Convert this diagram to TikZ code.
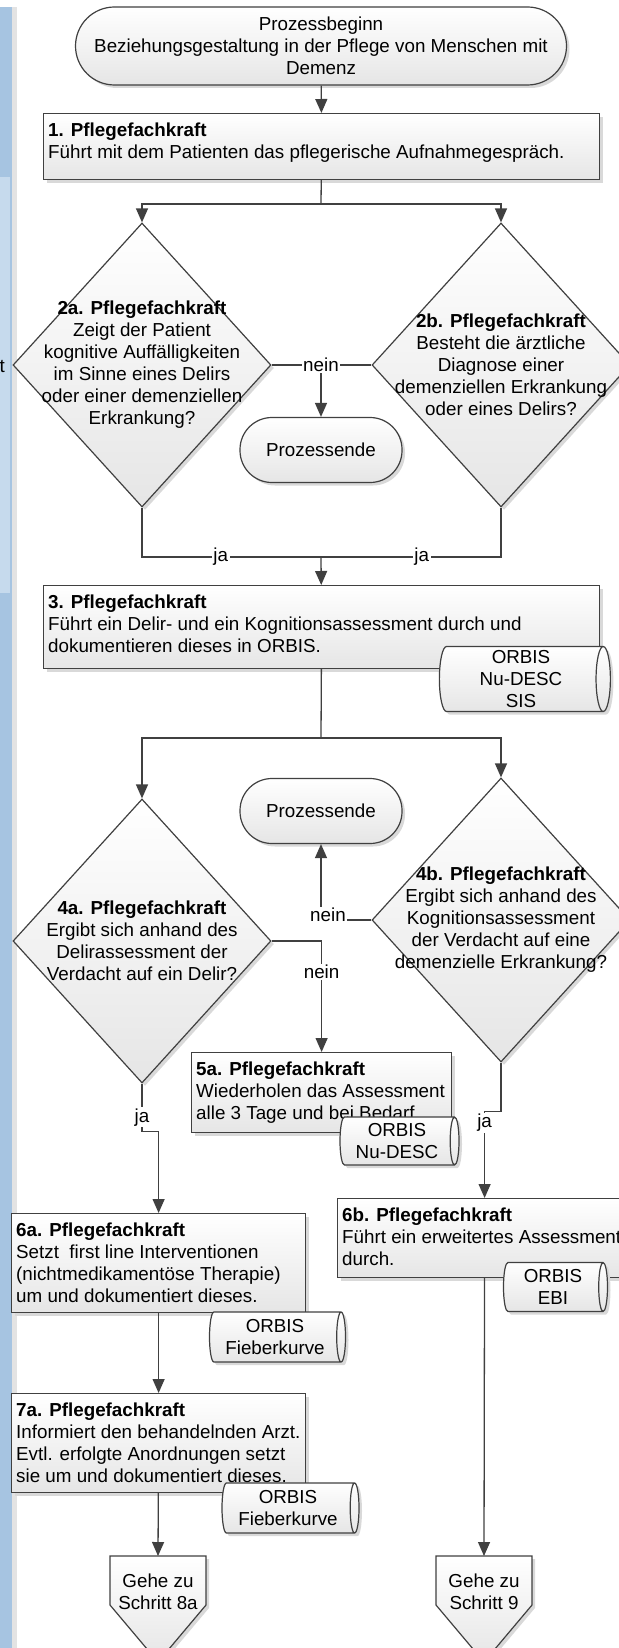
\documentclass[tikz,border=0pt]{standalone}
\usepackage{fontspec}
\setmainfont{Liberation Sans}
\usetikzlibrary{shapes.geometric}
\usetikzlibrary{arrows.meta}
\usetikzlibrary{shadows}
\definecolor{lanedark}{RGB}{166,196,225}
\definecolor{lanelight}{RGB}{198,218,237}
\definecolor{linegray}{RGB}{64,64,64}

\begin{document}
\begin{tikzpicture}[x=1pt, y=-1pt, font=\fontsize{18.8}{22}\selectfont,
  flow/.style={draw=linegray, line width=1.3pt},
  arr/.style={flow, -{Triangle[length=\al, width=\aw]}},
  shaded/.style={draw=linegray, line width=1.2pt, top color=white, bottom color=black!10,
    drop shadow={shadow xshift=3pt, shadow yshift=-3pt, fill=black!15, opacity=1}},
  stepbox/.style={shaded, rectangle, inner sep=0pt, anchor=north west},
  steptext/.style={anchor=north west, align=left, inner xsep=5pt, inner ysep=10pt},
  ask/.style={shaded, diamond, inner sep=0pt, minimum width=258pt, minimum height=284pt},
  term/.style={shaded, rectangle, align=center, inner sep=0pt},
  store/.style={shaded, cylinder, aspect=0.25, align=center, inner sep=0pt},
  lbl/.style={fill=white, inner sep=1.5pt}]
\def\al{14pt}
\def\aw{12pt}
\useasboundingbox (0,0) rectangle (618,1648);
%lane
\fill[lanedark] (0,7) rectangle (12,1648);
\fill[lanelight] (0,177) rectangle (10,593);
\fill[black!11] (12,7) rectangle (17,1648);
\node [anchor=east, inner sep=0pt, name=lanet] at (5,366) {t};

\node [term, rounded corners=39pt, minimum width=491pt, minimum height=78pt, name=s0] at (321,46)
  {Prozessbeginn\\Beziehungsgestaltung in der Pflege von Menschen mit\\Demenz};
\node [stepbox, minimum width=556pt, minimum height=66pt, name=p1,
  label={[steptext]north west:{\textbf{1. Pflegefachkraft}\\Führt mit dem Patienten das pflegerische Aufnahmegespräch.}}] at (43,113) {};

\node [ask, name=d2a, label={[align=center]center:{\textbf{2a. Pflegefachkraft}\\Zeigt der Patient\\kognitive Auffälligkeiten\\im Sinne eines Delirs\\oder einer demenziellen\\Erkrankung?}}] at (142,365) {};
\node [ask, name=d2b, label={[align=center]center:{\textbf{2b. Pflegefachkraft}\\Besteht die ärztliche\\Diagnose einer\\demenziellen Erkrankung\\oder eines Delirs?}}] at (501,365) {};
\node [term, rounded corners=32pt, minimum width=162pt, minimum height=65pt, name=e1] at (321,450) {Prozessende};

\node [stepbox, minimum width=556pt, minimum height=83pt, name=p3,
  label={[steptext]north west:{\textbf{3. Pflegefachkraft}\\Führt ein Delir- und ein Kognitionsassessment durch und\\dokumentieren dieses in ORBIS.}}] at (43,585) {};
\node [store, minimum height=171pt, minimum width=65pt, name=o3] at (521,679) {ORBIS\\Nu-DESC\\SIS};

\node [term, rounded corners=32pt, minimum width=162pt, minimum height=65pt, name=e2] at (321,811) {Prozessende};
\node [ask, name=d4a, label={[align=center]center:{\textbf{4a. Pflegefachkraft}\\Ergibt sich anhand des\\Delirassessment der\\Verdacht auf ein Delir?}}] at (142,941) {};
\node [ask, name=d4b, label={[align=center]center:{\textbf{4b. Pflegefachkraft}\\Ergibt sich anhand des\\Kognitionsassessment\\der Verdacht auf eine\\demenzielle Erkrankung?}}] at (501,920) {};

\node [stepbox, minimum width=260pt, minimum height=80pt, name=p5a,
  label={[steptext]north west:{\textbf{5a. Pflegefachkraft}\\Wiederholen das Assessment\\alle 3 Tage und bei Bedarf.}}] at (191,1052) {};
\node [store, minimum height=119pt, minimum width=48pt, name=o5a] at (397,1141) {ORBIS\\Nu-DESC};

\node [stepbox, minimum width=294pt, minimum height=99pt, name=p6a,
  label={[steptext]north west:{\textbf{6a. Pflegefachkraft}\\Setzt~ first line Interventionen\\(nichtmedikamentöse Therapie)\\um und dokumentiert dieses.}}] at (11,1213) {};
\node [store, minimum height=136pt, minimum width=50pt, name=o6a] at (275,1337) {ORBIS\\Fieberkurve};
\node [stepbox, minimum width=294pt, minimum height=79pt, name=p6b,
  label={[steptext]north west:{\textbf{6b. Pflegefachkraft}\\Führt ein erweitertes Assessment\\durch.}}] at (337,1198) {};
\node [store, minimum height=104pt, minimum width=49pt, name=o6b] at (553,1287) {ORBIS\\EBI};

\node [stepbox, minimum width=294pt, minimum height=99pt, name=p7a,
  label={[steptext]north west:{\textbf{7a. Pflegefachkraft}\\Informiert den behandelnden Arzt.\\Evtl. erfolgte Anordnungen setzt\\sie um und dokumentiert dieses.}}] at (11,1393) {};
\node [store, minimum height=137pt, minimum width=50pt, name=o7a] at (288,1508) {ORBIS\\Fieberkurve};

%off page
\coordinate (g8a) at (158,1556);
\coordinate (g9) at (484,1556);
\draw [shaded] (g8a) ++(-48,0) -- ++(96,0) -- ++(0,49) -- ++(-48,57) -- ++(-48,-57) -- cycle;
\draw [shaded] (g9) ++(-48,0) -- ++(96,0) -- ++(0,49) -- ++(-48,57) -- ++(-48,-57) -- cycle;
\node [align=center, name=g8at] at (158,1592) {Gehe zu\\Schritt 8a};
\node [align=center, name=g9t] at (484,1592) {Gehe zu\\Schritt 9};

\coordinate (j1) at (321,204);
\coordinate (j2) at (321,365);
\coordinate (j3) at (321,557);
\coordinate (j4) at (321,738);
\draw [arr] (s0) -- (p1);
\draw [flow] (p1) -- (j1);
\draw [arr] (j1) -| (d2a);
\draw [arr] (j1) -| (d2b);
\draw [flow] (d2a) -- (d2b);
\draw [arr] (j2) -- (e1);
\node [lbl, name=n1] at (j2) {nein};
\draw [flow] (d2a) |- (j3) node [lbl, pos=0.72, name=y1] {ja};
\draw [flow] (d2b) |- (j3) node [lbl, pos=0.72, name=y2] {ja};
\draw [arr] (j3) -- (p3);
\draw [flow] (p3) -- (j4);
\draw [arr] (j4) -| (d4a);
\draw [arr] (j4) -| (d4b);
\draw [arr] (d4b) -| (e2) node [lbl, pos=0.5, xshift=7pt, yshift=5pt, name=n2] {nein};
\draw [arr] (d4a) -| (p5a) node [lbl, pos=0.64, name=n3] {nein};
\draw [arr] (d4a.south) -- ++(0,48) node [lbl, pos=0.7, name=y3] {ja} -| (p6a);
\draw [arr] (d4b.south) -- ++(0,49) -| (p6b) node [lbl, pos=0.565, name=y4] {ja};
\draw [arr] (p6a) -- (p7a);
\draw [arr] (p7a) -- (g8a);
\draw [arr] (p6b) -- (g9);
\end{tikzpicture}
\end{document}
